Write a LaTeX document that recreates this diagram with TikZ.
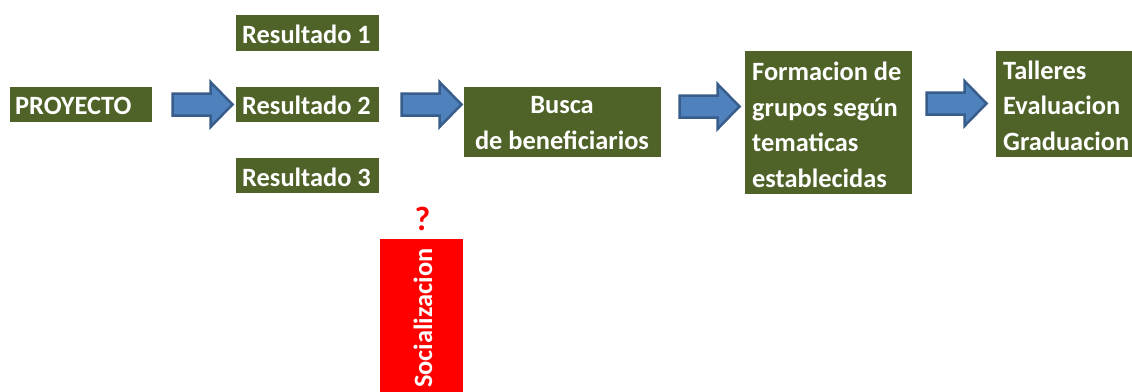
\documentclass[tikz,border=0pt]{standalone}
\usepackage{fontspec}
\setmainfont{Carlito}
\definecolor{boxgreen}{HTML}{4F6228}
\definecolor{arrfill}{HTML}{4F81BD}
\definecolor{arrdraw}{HTML}{385D8A}
\tikzset{
  gbox/.style={fill=boxgreen, inner sep=0pt, anchor=north west},
  wtext/.style={text=white, font=\fontsize{26.5}{35.5}\selectfont\bfseries, inner sep=0pt},
  arrowstyle/.style={fill=arrfill, draw=arrdraw, line width=2.5bp, line join=miter},
  barrow/.pic={\draw[arrowstyle] (0,-11) -- (38,-11) -- (38,-22.5) -- (60,0) -- (38,22.5) -- (38,11) -- (0,11) -- cycle;}
}
\begin{document}
\begin{tikzpicture}[x=1bp,y=-1bp]
\useasboundingbox (0,0) rectangle (1132,391);
% boxes
\node[gbox, minimum width=142bp, minimum height=35bp] (proy) at (10,87) {};
\node[wtext, anchor=base west] (proyt) at (15,114) {PROYECTO};

\node[gbox, minimum width=143bp, minimum height=36bp] (r1) at (236,15) {};
\node[wtext, anchor=base west] (r1t) at (242,43) {Resultado 1};
\node[gbox, minimum width=143bp, minimum height=35bp] (r2) at (236,87) {};
\node[wtext, anchor=base west] (r2t) at (242,114) {Resultado 2};
\node[gbox, minimum width=143bp, minimum height=35bp] (r3) at (236,158) {};
\node[wtext, anchor=base west] (r3t) at (242,186) {Resultado 3};

\node[gbox, minimum width=197bp, minimum height=70bp] (busca) at (464,87) {};
\node[wtext, align=center, anchor=base] (buscat) at (562,149) {Busca\\de beneficiarios};

\node[gbox, minimum width=167bp, minimum height=143bp] (form) at (745,51) {};
\node[wtext, align=left, anchor=base west] (formt) at (752,187) {Formacion de\\grupos según\\tematicas\\establecidas};

\node[gbox, minimum width=136bp, minimum height=106bp] (tall) at (996,51) {};
\node[wtext, align=left, anchor=base west] (tallt) at (1003,150) {Talleres\\Evaluacion\\Graduacion};

\node[fill=red, minimum width=83bp, minimum height=153bp, inner sep=0pt, anchor=north west] (soc) at (380,239) {};
\node[wtext, rotate=90, anchor=west] (soct) at (423,388) {Socializacion};
\node[text=red, font=\fontsize{34}{40}\selectfont\bfseries, inner sep=0pt, anchor=base] (q) at (422.5,230) {?};

% block arrows
\pic at (172.5,104.5) {barrow};
\pic at (401.5,104.5) {barrow};
\pic at (679.5,106.5) {barrow};
\pic at (926.5,103.5) {barrow};
\end{tikzpicture}
\end{document}
